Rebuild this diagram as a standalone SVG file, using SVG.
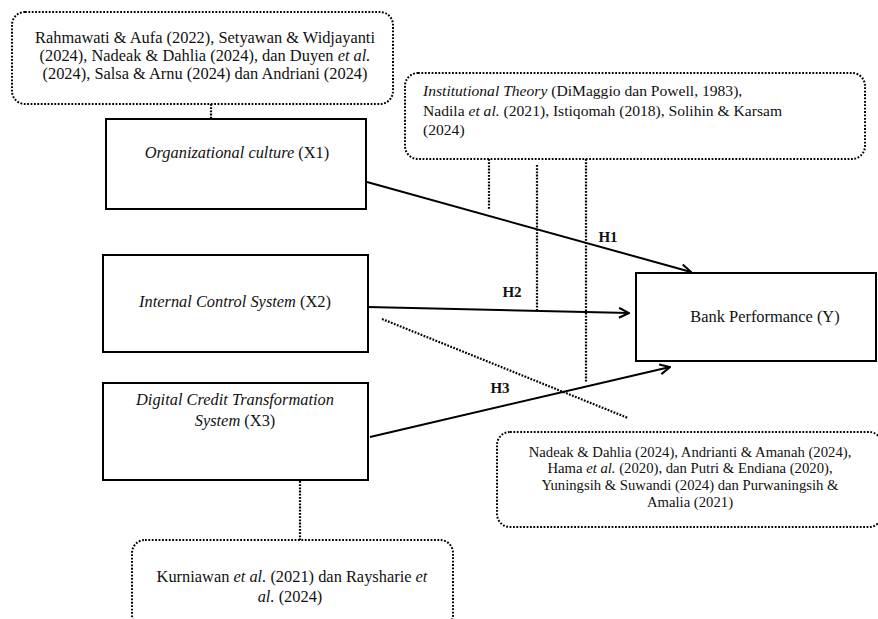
<svg xmlns="http://www.w3.org/2000/svg" width="878" height="619" viewBox="0 0 878 619">
<style>
.box{fill:#fff;stroke:#000;stroke-width:2}
.dbox{fill:#fff;stroke:#000;stroke-width:2;stroke-dasharray:1.8 1.6}
.dot{fill:none;stroke:#000;stroke-width:2.2;stroke-dasharray:1.8 1.4}
.arr{fill:none;stroke:#000;stroke-width:2;marker-end:url(#ah)}
text{font-family:"Liberation Serif","Times New Roman",serif;fill:#111}
.t{font-size:16.4px}
.c{text-anchor:middle}
.i{font-style:italic}
.h{font-size:15px;font-weight:bold}
</style>
<defs>
<marker id="ah" viewBox="0 0 12 12" refX="11" refY="6" markerWidth="12" markerHeight="12" markerUnits="userSpaceOnUse" orient="auto">
<path d="M1,1 L11,6 L1,11" fill="none" stroke="#000" stroke-width="2"/>
</marker>
</defs>
<rect width="878" height="619" fill="#fff"/>
<g id="connectors">
<line class="dot" x1="211" y1="104" x2="211" y2="119"/>
<line class="dot" x1="300" y1="481" x2="300" y2="540"/>
<line class="dot" x1="489" y1="159" x2="489" y2="210"/>
<line class="dot" x1="537" y1="165" x2="537" y2="310"/>
<line class="dot" x1="586" y1="159" x2="586" y2="382"/>
<line class="dot" x1="382" y1="319" x2="628" y2="418"/>
<line class="arr" x1="367" y1="182" x2="691" y2="272"/>
<line class="arr" x1="368" y1="307" x2="629" y2="313"/>
<line class="arr" x1="370" y1="437" x2="670" y2="367"/>
<text class="h" x="608" y="242" text-anchor="middle">H1</text>
<text class="h" x="512" y="297" text-anchor="middle">H2</text>
<text class="h" x="500" y="393" text-anchor="middle">H3</text>
</g>
<g id="ref-x1">
<rect class="dbox" x="12" y="12" width="381" height="92" rx="13"/>
<text class="t c" x="205" y="43">Rahmawati &amp; Aufa (2022), Setyawan &amp; Widjayanti</text>
<text class="t c" x="205" y="61">(2024), Nadeak &amp; Dahlia (2024), dan Duyen <tspan class="i">et al.</tspan></text>
<text class="t c" x="205" y="79">(2024), Salsa &amp; Arnu (2024) dan Andriani (2024)</text>
</g>
<g id="theory">
<rect class="dbox" x="405" y="73" width="460" height="86" rx="13"/>
<text x="423" y="96" style="font-size:15.6px"><tspan class="i">Institutional Theory</tspan> (DiMaggio dan Powell, 1983),</text>
<text x="423" y="116" style="font-size:15.6px">Nadila <tspan class="i">et al.</tspan> (2021), Istiqomah (2018), Solihin &amp; Karsam</text>
<text x="423" y="135" style="font-size:15.6px">(2024)</text>
</g>
<g id="x1">
<rect class="box" x="106" y="119" width="260" height="90"/>
<text class="t c" x="237" y="158"><tspan class="i">Organizational culture</tspan> (X1)</text>
</g>
<g id="x2">
<rect class="box" x="103" y="255" width="265" height="97"/>
<text class="t c" x="235" y="307"><tspan class="i">Internal Control System</tspan> (X2)</text>
</g>
<g id="x3">
<rect class="box" x="103" y="383" width="265" height="97"/>
<text class="t c i" x="235" y="405">Digital Credit Transformation</text>
<text class="t c" x="235" y="426"><tspan class="i">System</tspan> (X3)</text>
</g>
<g id="y">
<rect class="box" x="636" y="273" width="240" height="88"/>
<text class="t c" x="765" y="322">Bank Performance (Y)</text>
</g>
<g id="ref-x2">
<rect class="dbox" x="497" y="432" width="385" height="95" rx="13"/>
<text class="c" x="690" y="457" style="font-size:14.7px">Nadeak &amp; Dahlia (2024), Andrianti &amp; Amanah (2024),</text>
<text class="c" x="690" y="473" style="font-size:14.7px">Hama <tspan class="i">et al.</tspan> (2020), dan Putri &amp; Endiana (2020),</text>
<text class="c" x="690" y="490" style="font-size:14.7px">Yuningsih &amp; Suwandi (2024) dan Purwaningsih &amp;</text>
<text class="c" x="690" y="507" style="font-size:14.7px">Amalia (2021)</text>
</g>
<g id="ref-x3">
<rect class="dbox" x="132" y="540" width="321" height="88" rx="13"/>
<text class="t c" x="292" y="582">Kurniawan <tspan class="i">et al.</tspan> (2021) dan Raysharie <tspan class="i">et</tspan></text>
<text class="t c" x="290" y="602"><tspan class="i">al.</tspan> (2024)</text>
</g>
</svg>
